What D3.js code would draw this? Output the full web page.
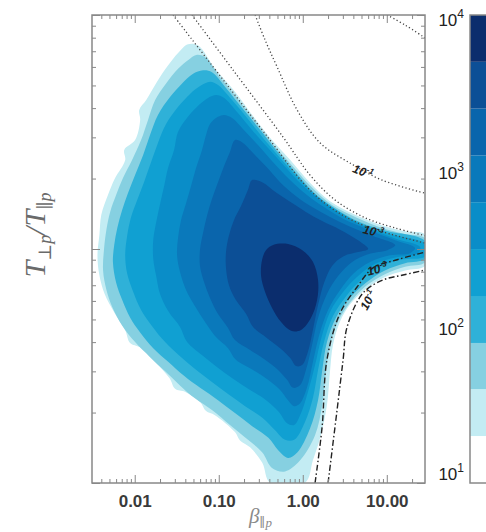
<!DOCTYPE html>
<html>
<head>
<meta charset="utf-8">
<script src="https://cdn.jsdelivr.net/npm/d3@7"></script>
<style>
  body { margin: 0; background: #fff; }
  svg { display: block; font-family: 'Liberation Sans', Arial, sans-serif; }
</style>
</head>
<body>
<div id="chart"></div>
<script>
// axis ticks
const xMajor = [0.01, 0.1, 1, 10]
const xMajorLabels = ['0.01', '0.10', '1.00', '10.00']
const yMajor = [0.1, 1, 10]

// colour bar: counts per bin, bands of 0.3 decade
const cbLevels = [10, 20, 40, 79, 158, 316, 631, 1259, 2512, 5012, 10000]
const cbColors = ['#ffffff', '#c3ecf3', '#86d0e1', '#2fb1d8', '#10a0d2', '#0a8dc8', '#0a79bb', '#0a65ac', '#0c4f96', '#0b2d6d']
const cbTicks = [10, 100, 1000, 10000]
const cbExp = ['1', '2', '3', '4']

// filled contours, outer to inner, [beta_par, Tperp/Tpar]
const contour1 = [
  [0.043, 7.5], [0.057, 7.4], [0.090, 5.9], [0.156, 4.7], [0.25, 3.74], [0.41, 2.98], [0.71, 2.4], [1.22, 1.92], [2.11, 1.6], [4.2, 1.4], [8.3, 1.27], [16.5, 1.19], [28.6, 1.15],
  [28.6, 0.85], [16.5, 0.81], [9.5, 0.76], [5.5, 0.67], [3.66, 0.58], [2.78, 0.49], [2.29, 0.39], [2.11, 0.30], [1.94, 0.215], [1.61, 0.156], [1.32, 0.125], [1.06, 0.1],
  [0.41, 0.1], [0.33, 0.122], [0.236, 0.142], [0.179, 0.152], [0.156, 0.165], [0.090, 0.195], [0.0706, 0.203], [0.060, 0.222], [0.040, 0.245], [0.0302, 0.2525], [0.026, 0.28],
  [0.0175, 0.33], [0.0116, 0.38], [0.0088, 0.397], [0.0077, 0.45], [0.0058, 0.53], [0.0044, 0.64],
  [0.0038, 0.77], [0.0036, 0.94], [0.0038, 1.15], [0.0040, 1.4], [0.0048, 1.7], [0.0058, 2.0], [0.0077, 2.4], [0.0075, 2.65], [0.0101, 2.92], [0.0116, 3.56], [0.0113, 3.93],
  [0.0137, 4.33], [0.0185, 5.2], [0.025, 6.1], [0.033, 6.9]
]
const contour2 = [
  [0.054, 6.75], [0.069, 6.6], [0.104, 5.4], [0.169, 4.37], [0.27, 3.52], [0.43, 2.84], [0.75, 2.27], [1.29, 1.83], [2.23, 1.54], [4.4, 1.36], [8.8, 1.23], [16.5, 1.16], [28.6, 1.11],
  [28.6, 0.88], [16.5, 0.84], [9.5, 0.78], [5.5, 0.69], [3.66, 0.59], [2.63, 0.49], [2.11, 0.39], [1.89, 0.30], [1.70, 0.215], [1.40, 0.16], [0.93, 0.125], [0.615, 0.112],
  [0.43, 0.116], [0.33, 0.135], [0.223, 0.153], [0.136, 0.177], [0.083, 0.205], [0.052, 0.23], [0.035, 0.26], [0.023, 0.30], [0.0152, 0.345], [0.0101, 0.40], [0.0071, 0.47], [0.0054, 0.565],
  [0.0046, 0.67], [0.0042, 0.81], [0.0043, 0.99], [0.0046, 1.21], [0.0051, 1.44], [0.0060, 1.7], [0.0072, 2.0], [0.0093, 2.4], [0.0119, 2.92], [0.0144, 3.56], [0.0175, 4.33], [0.0236, 5.1], [0.033, 5.9], [0.043, 6.4]
]
const contour3 = [
  [0.065, 5.8], [0.083, 5.7], [0.122, 4.88], [0.19, 4.0], [0.30, 3.28], [0.48, 2.65], [0.81, 2.14], [1.36, 1.74], [2.35, 1.5], [4.8, 1.3], [9.5, 1.2], [28.6, 1.08],
  [28.6, 0.91], [16.5, 0.87], [9.5, 0.81], [5.7, 0.72], [3.66, 0.62], [2.49, 0.51], [1.94, 0.40], [1.70, 0.30], [1.52, 0.226], [1.22, 0.171], [0.86, 0.135], [0.67, 0.128],
  [0.51, 0.138], [0.39, 0.156], [0.25, 0.175], [0.156, 0.199], [0.098, 0.226], [0.060, 0.255], [0.0386, 0.287], [0.025, 0.33], [0.0166, 0.377], [0.0116, 0.44], [0.0088, 0.51], [0.0071, 0.605],
  [0.0060, 0.72], [0.0055, 0.88], [0.0057, 1.04], [0.0062, 1.23], [0.0071, 1.47], [0.0083, 1.73], [0.0101, 2.07], [0.0126, 2.52], [0.0152, 3.07], [0.0189, 3.74], [0.0263, 4.46], [0.0366, 5.1], [0.049, 5.6]
]
const contour4 = [
  [0.079, 5.18], [0.098, 5.02], [0.144, 4.33], [0.218, 3.63], [0.337, 2.98], [0.537, 2.45], [0.88, 2.01], [1.48, 1.68], [2.56, 1.46], [5.1, 1.27], [10.9, 1.16], [28.6, 1.05],
  [28.6, 0.93], [14.4, 0.90], [8.3, 0.84], [5.1, 0.744], [3.37, 0.636], [2.29, 0.517], [1.79, 0.40], [1.52, 0.304], [1.32, 0.231], [1.06, 0.182], [0.79, 0.153], [0.615, 0.153],
  [0.468, 0.168], [0.33, 0.19], [0.206, 0.213], [0.129, 0.24], [0.083, 0.27], [0.054, 0.304], [0.0346, 0.348], [0.023, 0.40], [0.0161, 0.468], [0.0119, 0.549], [0.0096, 0.655], [0.0081, 0.79],
  [0.0077, 0.94], [0.0081, 1.13], [0.0090, 1.36], [0.0107, 1.62], [0.0129, 1.93], [0.0156, 2.34], [0.0189, 2.84], [0.0236, 3.42], [0.0327, 4.04], [0.0455, 4.6], [0.060, 4.97]
]
const contour5 = [
  [0.093, 4.55], [0.116, 4.42], [0.165, 3.85], [0.25, 3.22], [0.386, 2.70], [0.60, 2.27], [0.98, 1.88], [1.61, 1.62], [2.78, 1.41], [5.5, 1.245], [12.6, 1.11], [24.9, 1.02],
  [23.6, 0.96], [12.6, 0.92], [7.26, 0.864], [4.55, 0.766], [3.02, 0.655], [2.11, 0.538], [1.66, 0.416], [1.40, 0.319], [1.19, 0.255], [0.955, 0.199], [0.79, 0.177], [0.65, 0.18],
  [0.52, 0.201], [0.366, 0.226], [0.236, 0.25], [0.148, 0.279], [0.095, 0.313], [0.063, 0.352], [0.042, 0.40], [0.0346, 0.464], [0.0249, 0.544], [0.020, 0.642], [0.018, 0.766], [0.0166, 0.91],
  [0.0166, 1.09], [0.018, 1.30], [0.020, 1.555], [0.0224, 1.86], [0.0249, 2.22], [0.0294, 2.65], [0.0327, 3.16], [0.043, 3.67], [0.058, 4.12], [0.0745, 4.42]
]
const contour6 = [
  [0.116, 3.74], [0.144, 3.63], [0.20, 3.22], [0.293, 2.78], [0.443, 2.35], [0.706, 1.97], [1.12, 1.70], [1.79, 1.51], [3.10, 1.34], [6.0, 1.21], [12.6, 1.09], [21.7, 1.01],
  [18.9, 0.96], [10.9, 0.94], [6.33, 0.88], [4.08, 0.79], [2.78, 0.668], [2.0, 0.549], [1.57, 0.429], [1.32, 0.329], [1.12, 0.255], [0.93, 0.219], [0.79, 0.213], [0.668, 0.226],
  [0.537, 0.25], [0.386, 0.276], [0.256, 0.304], [0.16, 0.336], [0.129, 0.377], [0.0903, 0.425], [0.0687, 0.487], [0.0522, 0.57], [0.0408, 0.668], [0.0346, 0.797], [0.0319, 0.94],
  [0.0327, 1.11], [0.0356, 1.33], [0.0408, 1.57], [0.0468, 1.86], [0.0537, 2.22], [0.0632, 2.65], [0.0706, 3.07], [0.0787, 3.42], [0.098, 3.67]
]
const contour7 = [
  [0.156, 2.92], [0.189, 2.86], [0.256, 2.57], [0.366, 2.25], [0.537, 1.93], [0.833, 1.68], [1.29, 1.51], [2.11, 1.37], [3.66, 1.245], [6.7, 1.14], [12.6, 1.04],
  [10.3, 0.99], [6.0, 0.95], [3.87, 0.88], [2.63, 0.766], [1.94, 0.642], [1.52, 0.507], [1.29, 0.389], [1.09, 0.304], [0.93, 0.262], [0.766, 0.255], [0.65, 0.276],
  [0.508, 0.304], [0.356, 0.336], [0.236, 0.37], [0.156, 0.408], [0.129, 0.46], [0.098, 0.527], [0.0787, 0.617], [0.0668, 0.723], [0.0598, 0.847], [0.0598, 0.99],
  [0.065, 1.17], [0.0726, 1.39], [0.0832, 1.64], [0.098, 1.93], [0.116, 2.27], [0.136, 2.60]
]
const contour8 = [
  [0.249, 1.97], [0.328, 1.93], [0.468, 1.755], [0.706, 1.59], [1.09, 1.44], [1.70, 1.317], [2.78, 1.21], [4.55, 1.09], [6.0, 1.0],
  [4.55, 0.97], [3.02, 0.93], [2.23, 0.847], [1.79, 0.716], [1.52, 0.576], [1.32, 0.451], [1.15, 0.363], [0.98, 0.319], [0.833, 0.316], [0.706, 0.343],
  [0.537, 0.377], [0.376, 0.416], [0.256, 0.464], [0.212, 0.527], [0.16, 0.605], [0.132, 0.702], [0.122, 0.829], [0.122, 0.97], [0.132, 1.14], [0.152, 1.33], [0.184, 1.525], [0.223, 1.79]
]
const contour9 = [
  [0.443, 1.04], [0.668, 1.05], [0.98, 0.99], [1.32, 0.882], [1.52, 0.737], [1.48, 0.605], [1.25, 0.507], [0.955, 0.451], [0.726, 0.447], [0.552, 0.487], [0.431, 0.56], [0.356, 0.655], [0.319, 0.766], [0.328, 0.90], [0.366, 0.99]
]
const contours = [contour1, contour2, contour3, contour4, contour5, contour6, contour7, contour8, contour9]

// instability threshold curves
const dottedCorner = [[10.1, 10], [16.5, 9.06], [28.6, 7.98]]
const dotted1 = [[0.271, 10], [0.356, 7.82], [0.495, 6.0], [0.856, 3.93], [1.61, 2.84], [3.96, 2.29], [8.8, 1.97], [28.6, 1.73]]
const dotted3a = [[0.0286, 10], [0.104, 5.49], [0.408, 2.92], [1.06, 1.88], [2.11, 1.51], [4.81, 1.28], [10.9, 1.16], [28.6, 1.06]]
const dotted3b = [[0.048, 10], [0.148, 5.82], [0.582, 3.01], [1.22, 2.07], [2.42, 1.62], [5.52, 1.36], [12.6, 1.23], [28.6, 1.14]]
const dashDot3 = [[1.40, 0.1], [1.70, 0.174], [1.94, 0.336], [2.78, 0.532], [4.43, 0.688], [6.87, 0.83], [13.3, 0.90], [28.6, 0.97]]
const dashDot1 = [[2.0, 0.1], [2.56, 0.205], [3.02, 0.336], [3.37, 0.464], [5.22, 0.649], [9.0, 0.737], [15.6, 0.774], [28.6, 0.813]]

const curveLabelAt = [[5.2, 2.14], [6.9, 1.19], [7.7, 0.82], [6.0, 0.605]]
const curveLabelExp = ['-1', '-3', '-3', '-1']

const WIDTH = 486
const HEIGHT = 532

const svg = d3.select('#chart')
  .append('svg')
  .attr('width', WIDTH)
  .attr('height', HEIGHT)

const x = d3.scaleLog().domain([0.0031, 28.5]).range([92, 425])
const y = d3.scaleLog().domain([0.1, 10]).range([483, 15])
const [x0, x1] = x.range()
const [y0, y1] = y.range()

svg.append('clipPath').attr('id', 'plot-clip')
  .append('rect')
  .attr('x', x0).attr('y', y1)
  .attr('width', x1 - x0).attr('height', y0 - y1)

const plot = svg.append('g').attr('clip-path', 'url(#plot-clip)')

// contours
const area = d3.line()
  .x(d => x(d[0]))
  .y(d => y(d[1]))
  .curve(d3.curveCatmullRomClosed.alpha(0.5))

plot.selectAll('.contour')
  .data(contours)
  .enter()
  .append('path')
  .attr('class', 'contour')
  .attr('d', area)
  .attr('fill', (d, i) => cbColors[i + 1])

// threshold curves
const line = d3.line()
  .x(d => x(d[0]))
  .y(d => y(d[1]))
  .curve(d3.curveCatmullRom.alpha(0.5))

const dotted = [dottedCorner, dotted1, dotted3a, dotted3b]
plot.selectAll('.dotted')
  .data(dotted)
  .enter()
  .append('path')
  .attr('class', 'dotted')
  .attr('d', line)
  .attr('fill', 'none')
  .attr('stroke', '#444')
  .attr('stroke-width', 1.3)
  .attr('stroke-dasharray', '1.2,2.4')

plot.selectAll('.dashdot')
  .data([dashDot3, dashDot1])
  .enter()
  .append('path')
  .attr('class', 'dashdot')
  .attr('d', line)
  .attr('fill', 'none')
  .attr('stroke', '#222')
  .attr('stroke-width', 1.4)
  .attr('stroke-dasharray', '6,2.5,1.5,2.5')

const labelAngle = [22, 14, -14, -62]
const lab = plot.selectAll('.curve-label')
  .data(curveLabelAt)
  .enter()
  .append('text')
  .attr('class', 'curve-label')
  .attr('transform', (d, i) => `translate(${x(d[0])},${y(d[1])}) rotate(${labelAngle[i]})`)
  .attr('text-anchor', 'middle')
  .attr('dy', '0.35em')
  .attr('font-size', 12)
  .attr('font-style', 'italic')
  .attr('font-weight', 'bold')
  .attr('fill', '#222')
lab.append('tspan').text('10')
lab.append('tspan')
  .attr('dy', -5)
  .attr('font-size', 8)
  .text((d, i) => curveLabelExp[i])

// axes, ticks pointing inward on all four sides
function logMinor(scale) {
  const [a, b] = scale.domain()
  const vals = []
  for (let e = Math.floor(Math.log10(a)); e <= Math.ceil(Math.log10(b)); e++) {
    for (let m = 2; m <= 9; m++) {
      const v = m * Math.pow(10, e)
      if (v > a && v < b) vals.push(v)
    }
  }
  return vals
}

function ticks(axis, transform, values, size) {
  const g = svg.append('g')
    .attr('transform', transform)
    .call(axis.tickValues(values).tickSizeInner(-size).tickSizeOuter(0).tickFormat(''))
  g.select('.domain').remove()
  g.selectAll('line').attr('stroke', '#888').attr('stroke-width', 1)
  return g
}

const xMinor = logMinor(x)
const yMinor = logMinor(y)
ticks(d3.axisBottom(x), `translate(0,${y0})`, xMinor, 4)
ticks(d3.axisTop(x), `translate(0,${y1})`, xMinor, 4)
ticks(d3.axisTop(x), `translate(0,${y1})`, xMajor, 8)
ticks(d3.axisLeft(y), `translate(${x0},0)`, yMinor, 4)
ticks(d3.axisLeft(y), `translate(${x0},0)`, yMajor, 8)
ticks(d3.axisRight(y), `translate(${x1},0)`, yMinor, 4)
ticks(d3.axisRight(y), `translate(${x1},0)`, yMajor, 8)

const xAxis = ticks(d3.axisBottom(x), `translate(0,${y0})`, xMajor, 8)
xAxis.call(g => g.selectAll('.tick text').remove())
xAxis.selectAll('.tick')
  .append('text')
  .attr('y', 24)
  .attr('text-anchor', 'middle')
  .attr('font-size', 17)
  .attr('font-weight', 'bold')
  .attr('fill', '#3a3a3a')
  .attr('font-family', "'Liberation Sans', Arial, sans-serif")
  .text((d, i) => xMajorLabels[i])

svg.append('rect')
  .attr('x', x0).attr('y', y1)
  .attr('width', x1 - x0).attr('height', y0 - y1)
  .attr('fill', 'none')
  .attr('stroke', '#888')
  .attr('stroke-width', 1.5)

// axis titles
const xt = svg.append('text')
  .attr('x', (x0 + x1) / 2 + 2)
  .attr('y', 523)
  .attr('text-anchor', 'middle')
  .attr('font-family', "'Liberation Serif', 'DejaVu Serif', serif")
  .attr('font-style', 'italic')
  .attr('font-size', 21)
  .attr('fill', '#8a8a8a')
xt.append('tspan').text('β')
xt.append('tspan').attr('dy', 4).attr('font-size', 13).text('∥p')

const yt = svg.append('text')
  .attr('transform', `translate(45,${(y0 + y1) / 2 - 14}) rotate(-90)`)
  .attr('text-anchor', 'middle')
  .attr('font-family', "'Liberation Serif', 'DejaVu Serif', serif")
  .attr('font-style', 'italic')
  .attr('font-size', 30)
  .attr('fill', '#6a6a6a')
yt.append('tspan').text('T')
yt.append('tspan').attr('dy', 6).attr('font-size', 18).text('⊥p')
yt.append('tspan').attr('dy', -6).text('/T')
yt.append('tspan').attr('dy', 6).attr('font-size', 18).text('∥p')

// colour bar
const cb = d3.scaleLog().domain([cbLevels[0], cbLevels[cbLevels.length - 1]]).range([y0, y1])
const cbX = 470
const bands = d3.pairs(cbLevels)
svg.selectAll('.cb-band')
  .data(bands)
  .enter()
  .append('rect')
  .attr('class', 'cb-band')
  .attr('x', cbX)
  .attr('y', d => cb(d[1]))
  .attr('width', 40)
  .attr('height', d => cb(d[0]) - cb(d[1]))
  .attr('fill', (d, i) => cbColors[i])
svg.append('rect')
  .attr('x', cbX).attr('y', y1)
  .attr('width', 40).attr('height', y0 - y1)
  .attr('fill', 'none')
  .attr('stroke', '#888')
  .attr('stroke-width', 1.5)

const cbl = svg.selectAll('.cb-label')
  .data(cbTicks)
  .enter()
  .append('text')
  .attr('class', 'cb-label')
  .attr('x', 464)
  .attr('y', d => Math.max(Math.min(cb(d) + 8, y0 - 3), y1 + 11))
  .attr('text-anchor', 'end')
  .attr('font-size', 17)
  .attr('fill', '#222')
cbl.append('tspan').text('10')
cbl.append('tspan')
  .attr('dy', -8)
  .attr('font-size', 12)
  .text((d, i) => cbExp[i])
</script>
</body>
</html>
